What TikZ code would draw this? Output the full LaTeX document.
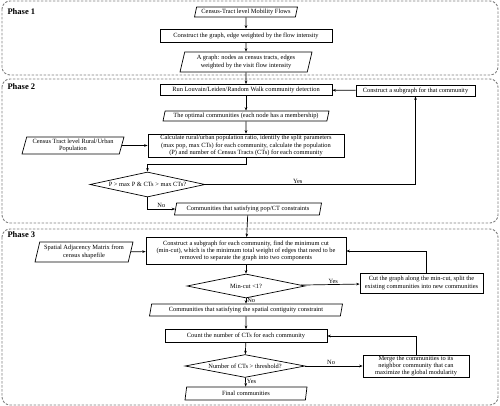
\documentclass[tikz,border=0pt]{standalone}
\usepackage{fontspec}
\setmainfont{Liberation Serif}
\usetikzlibrary{shapes.geometric,arrows.meta}
\begin{document}
\begin{tikzpicture}[x=1pt,y=-1pt,
  txt/.style={font=\fontsize{6.4}{7.2}\selectfont},
  box/.style={txt, draw, line width=0.7pt, rectangle, inner sep=0pt, align=center},
  para/.style={txt, draw, line width=0.7pt, trapezium, trapezium left angle=70, trapezium right angle=110, trapezium stretches body, inner sep=0pt, align=center},
  dia/.style={txt, draw, line width=0.7pt, diamond, aspect=4, inner sep=0pt, align=center},
  arr/.style={-{Stealth[length=3.5pt,width=2.6pt]}, line width=0.7pt},
  phase/.style={draw=gray, dashed, dash pattern=on 2.5pt off 1.5pt, line width=0.9pt, rounded corners=8pt},
  plabel/.style={font=\fontsize{8.5}{10}\selectfont\bfseries, anchor=west},
  lbl/.style={txt, inner sep=1pt}
]
\useasboundingbox (0,0) rectangle (500,406);
% phase frames
\draw[phase] (2,1) rectangle (498,75);
\draw[phase] (2,79) rectangle (498,223);
\draw[phase] (2,229) rectangle (498,405);
\node[plabel] (p1) at (4,12) {Phase 1};
\node[plabel] (p2) at (4,87) {Phase 2};
\node[plabel] (p3) at (4,235) {Phase 3};

% Phase 1
\node[para, minimum width=103pt, minimum height=10pt] (n1) at (246,12) {Census-Tract level Mobility Flows};
\node[box, minimum width=172pt, minimum height=13pt] (n2) at (246,35.5) {Construct the graph, edge weighted by the flow intensity};
\node[para, minimum width=132pt, minimum height=20pt] (n3) at (246,62) {A graph: nodes as census tracts, edges\\weighted by the visit flow intensity};

% Phase 2
\node[box, minimum width=172pt, minimum height=11pt] (n4) at (246,90) {Run Louvain/Leiden/Random Walk community detection};
\node[box, minimum width=119pt, minimum height=11pt] (n5) at (415.5,90.5) {Construct a subgraph for that community};
\node[para, minimum width=166pt, minimum height=10pt] (n6) at (246,116) {The optimal communities (each node has a membership)};
\node[box, minimum width=196pt, minimum height=23pt] (n7) at (246,145.5) {Calculate rural/urban population ratio, identify the split parameters\\(max pop, max CTs) for each community, calculate the population\\(P) and number of Census Tracts (CTs) for each community};
\node[para, minimum width=102pt, minimum height=17pt] (n8) at (73,145.5) {Census Tract level Rural/Urban\\Population};
\node[dia, minimum width=115pt, minimum height=25pt] (d1) at (147.5,184.5) {P > max P \& CTs > max CTs?};
\node[para, minimum width=147pt, minimum height=12pt] (n9) at (248,209) {Communities that satisfying pop/CT constraints};

% Phase 3
\node[box, minimum width=200pt, minimum height=27pt] (n10) at (246,251) {Construct a subgraph for each community, find the minimum cut\\(min-cut), which is the minimum total weight of edges that need to be\\removed to separate the graph into two components};
\node[para, minimum width=98pt, minimum height=20pt] (n11) at (84,252) {Spatial Adjacency Matrix from\\census shapefile};
\node[dia, minimum width=118pt, minimum height=24pt] (d2) at (246,286) {Min-cut <1?};
\node[box, minimum width=123pt, minimum height=20pt] (n13) at (421.5,283) {Cut the graph along the min-cut, split the\\existing communities into new communities};
\node[para, minimum width=193pt, minimum height=12pt] (n14) at (246,310) {Communities that satisfying the spatial contiguity constraint};
\node[box, minimum width=162pt, minimum height=13pt] (n15) at (246,336) {Count the number of CTs for each community};
\node[dia, minimum width=120pt, minimum height=22pt] (d3) at (245,366) {Number of CTs > threshold?};
\node[box, minimum width=106pt, minimum height=22pt] (n17) at (416,366) {Merge the communities to its\\neighbor community that can\\maximize the global modularity};
\node[para, minimum width=122pt, minimum height=13pt] (n18) at (246,393.5) {Final communities};

% connectors
\draw[arr] (n1) -- (n2);
\draw[arr] (n2) -- (n3);
\draw[arr] (n3) -- (n4);
\draw[arr] (n5) -- (n4);
\draw[arr] (n4) -- (n6);
\draw[arr] (n6) -- (n7);
\draw[arr] (n8) -- (n7);
\draw[arr] (n7.south) -- ++(0,7) -| (d1.north);
\draw[arr] (d1.east) -| node[lbl, above, pos=0.22] (yes1) {Yes} (n5.south);
\draw[arr] (d1.south) |- node[lbl, above, pos=0.75] (no1) {No} (n9.west);
\draw[arr] (n9) -- (n10);
\draw[arr] (n11) -- (n10);
\draw[arr] (n10) -- (d2);
\draw[arr] (d2) -- node[lbl, above, pos=0.55] (yes2) {Yes} (n13);
\draw[arr] ([xshift=5pt]n13.north) |- (n10.east);
\draw[arr] (d2) -- node[lbl, right, pos=0.4] (no2) {No} (n14);
\draw[arr] (n14) -- (n15);
\draw[arr] (n15) -- (d3);
\draw[arr] (d3) -- node[lbl, above, pos=0.45] (no3) {No} (n17);
\draw[arr] (n17.north) |- (n15.east);
\draw[arr] (d3) -- node[lbl, right, pos=0.45] (yes3) {Yes} (n18);
\end{tikzpicture}
\end{document}
